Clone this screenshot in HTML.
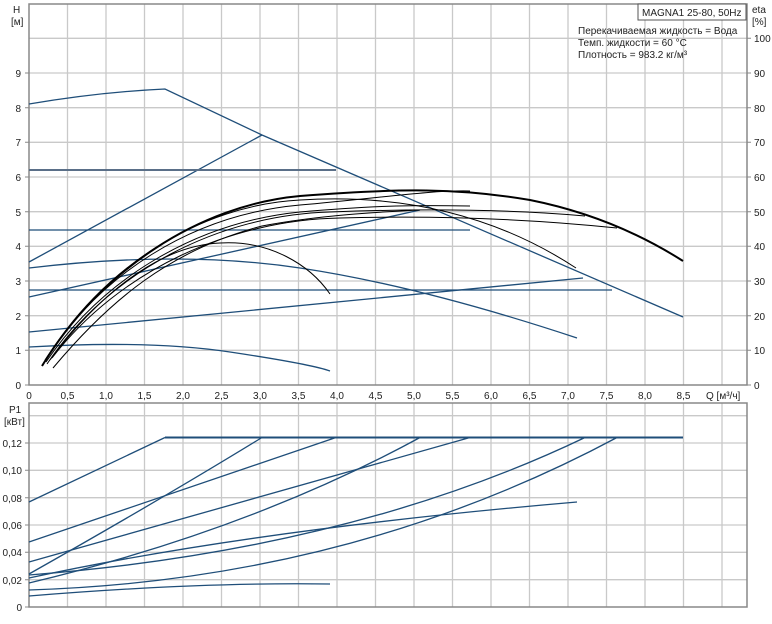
<!DOCTYPE html>
<html><head><meta charset="utf-8"><style>
html,body{margin:0;padding:0;background:#fff}
svg{display:block;font-family:"Liberation Sans",sans-serif;font-size:10px;fill:#222}
</style></head><body>
<svg width="772" height="624" viewBox="0 0 772 624" xmlns="http://www.w3.org/2000/svg">
<g stroke="#c9c9c9" stroke-width="1.3" fill="none">
<path d="M67.5 4V385M106 4V385M144.5 4V385M183 4V385M221.5 4V385M260 4V385M298.5 4V385M337 4V385M375.5 4V385M414 4V385M452.5 4V385M491 4V385M529.5 4V385M568 4V385M606.5 4V385M645 4V385M683.5 4V385M722 4V385"/>
<path d="M29 350.3H747M29 315.7H747M29 281H747M29 246.3H747M29 211.7H747M29 177H747M29 142.3H747M29 107.7H747M29 73H747M29 38.3H747"/>
<path d="M67.5 403V607M106 403V607M144.5 403V607M183 403V607M221.5 403V607M260 403V607M298.5 403V607M337 403V607M375.5 403V607M414 403V607M452.5 403V607M491 403V607M529.5 403V607M568 403V607M606.5 403V607M645 403V607M683.5 403V607M722 403V607"/>
<path d="M29 579.7H747M29 552.3H747M29 525H747M29 497.7H747M29 470.3H747M29 443H747M29 415.7H747"/>
</g>
<g stroke="#888" stroke-width="1.5" fill="none">
<path d="M29 4H747V385H29Z"/>
<path d="M29 403H747V607H29Z"/>
</g>
<g stroke="#888" stroke-width="1">
<path d="M25 385H29M25 350.3H29M25 315.7H29M25 281H29M25 246.3H29M25 211.7H29M25 177H29M25 142.3H29M25 107.7H29M25 73H29"/>
<path d="M747 385H751M747 350.3H751M747 315.7H751M747 281H751M747 246.3H751M747 211.7H751M747 177H751M747 142.3H751M747 107.7H751M747 73H751M747 38.3H751"/>
<path d="M25 607H29M25 579.7H29M25 552.3H29M25 525H29M25 497.7H29M25 470.3H29M25 443H29"/>
</g>
<g stroke="#1f4e79" stroke-width="1.3" fill="none">
<path d="M29 104Q100 92 165 89L262 135L683 317"/>
<path d="M29 262L262 135"/>
<path d="M29 170H336" stroke="#5a6f88" stroke-width="2"/>
<path d="M29 230H470"/>
<path d="M29 297L420 210"/>
<path d="M29 268Q180 250 300 268T577 338"/>
<path d="M29 290H612"/>
<path d="M29 332L583 278"/>
<path d="M29 347Q150 340 230 352T330 371"/>
</g>
<g stroke="#000" stroke-width="1" fill="none">
<path d="M42 366C100 270 200 205 300 196C400 188 460 188 530 200C600 214 650 240 683 261" stroke-width="2"/>
<path d="M44 363C100 268 200 205 300 200C380 195 480 205 576 268"/>
<path d="M50 360C110 280 170 245 220 243C270 240 310 265 330 294"/>
<path d="M47 364C110 270 220 215 330 212C430 208 520 210 585 216"/>
<path d="M52 358C120 270 230 220 340 218C450 215 540 220 617 228"/>
<path d="M53 368C110 300 170 250 262 226C320 215 380 212 420 210"/>
<path d="M45 360C100 275 190 215 300 205C380 198 430 190 470 191"/>
<path d="M46 362C105 275 200 222 300 212C380 205 420 205 470 206"/>
</g>
<g stroke="#1f4e79" stroke-width="1.3" fill="none">
<path d="M165 437.5H683" stroke-width="2"/>
<path d="M29 502L165 437.5"/>
<path d="M29 574Q160 500 262 437.5"/>
<path d="M29 542L336 437.5"/>
<path d="M29 562L470 437.5"/>
<path d="M29 583Q250 530 420 437.5"/>
<path d="M29 578Q250 530 577 502"/>
<path d="M29 575Q350 550 585 437.5"/>
<path d="M29 590Q350 580 617 437.5"/>
<path d="M29 596Q200 582 330 584"/>
</g>
<g>
<text x="13" y="13">H</text><text x="11" y="25">[м]</text>
<g text-anchor="end">
<text x="21" y="389">0</text><text x="21" y="354">1</text><text x="21" y="320">2</text><text x="21" y="285">3</text><text x="21" y="250">4</text><text x="21" y="216">5</text><text x="21" y="181">6</text><text x="21" y="146">7</text><text x="21" y="112">8</text><text x="21" y="77">9</text>
<text x="22" y="611">0</text><text x="22" y="584">0,02</text><text x="22" y="556">0,04</text><text x="22" y="529">0,06</text><text x="22" y="502">0,08</text><text x="22" y="474">0,10</text><text x="22" y="447">0,12</text>
</g>
<text x="752" y="13">eta</text><text x="752" y="25">[%]</text>
<g>
<text x="754" y="42">100</text><text x="754" y="77">90</text><text x="754" y="112">80</text><text x="754" y="146">70</text><text x="754" y="181">60</text><text x="754" y="216">50</text><text x="754" y="250">40</text><text x="754" y="285">30</text><text x="754" y="320">20</text><text x="754" y="354">10</text><text x="754" y="389">0</text>
</g>
<g text-anchor="middle">
<text x="29" y="399">0</text><text x="67.5" y="399">0,5</text><text x="106" y="399">1,0</text><text x="144.5" y="399">1,5</text><text x="183" y="399">2,0</text><text x="221.5" y="399">2,5</text><text x="260" y="399">3,0</text><text x="298.5" y="399">3,5</text><text x="337" y="399">4,0</text><text x="375.5" y="399">4,5</text><text x="414" y="399">5,0</text><text x="452.5" y="399">5,5</text><text x="491" y="399">6,0</text><text x="529.5" y="399">6,5</text><text x="568" y="399">7,0</text><text x="606.5" y="399">7,5</text><text x="645" y="399">8,0</text><text x="683.5" y="399">8,5</text>
</g>
<text x="706" y="399">Q [м³/ч]</text>
<text x="9" y="413">P1</text><text x="4" y="425">[кВт]</text>
<rect x="638" y="4" width="108" height="16" fill="#fff" stroke="#555" stroke-width="1"/>
<text x="642" y="16">MAGNA1 25-80, 50Hz</text>
<text x="578" y="34">Перекачиваемая жидкость = Вода</text>
<text x="578" y="46">Темп. жидкости = 60 °C</text>
<text x="578" y="58">Плотность = 983.2 кг/м³</text>
</g>
</svg>
</body></html>
